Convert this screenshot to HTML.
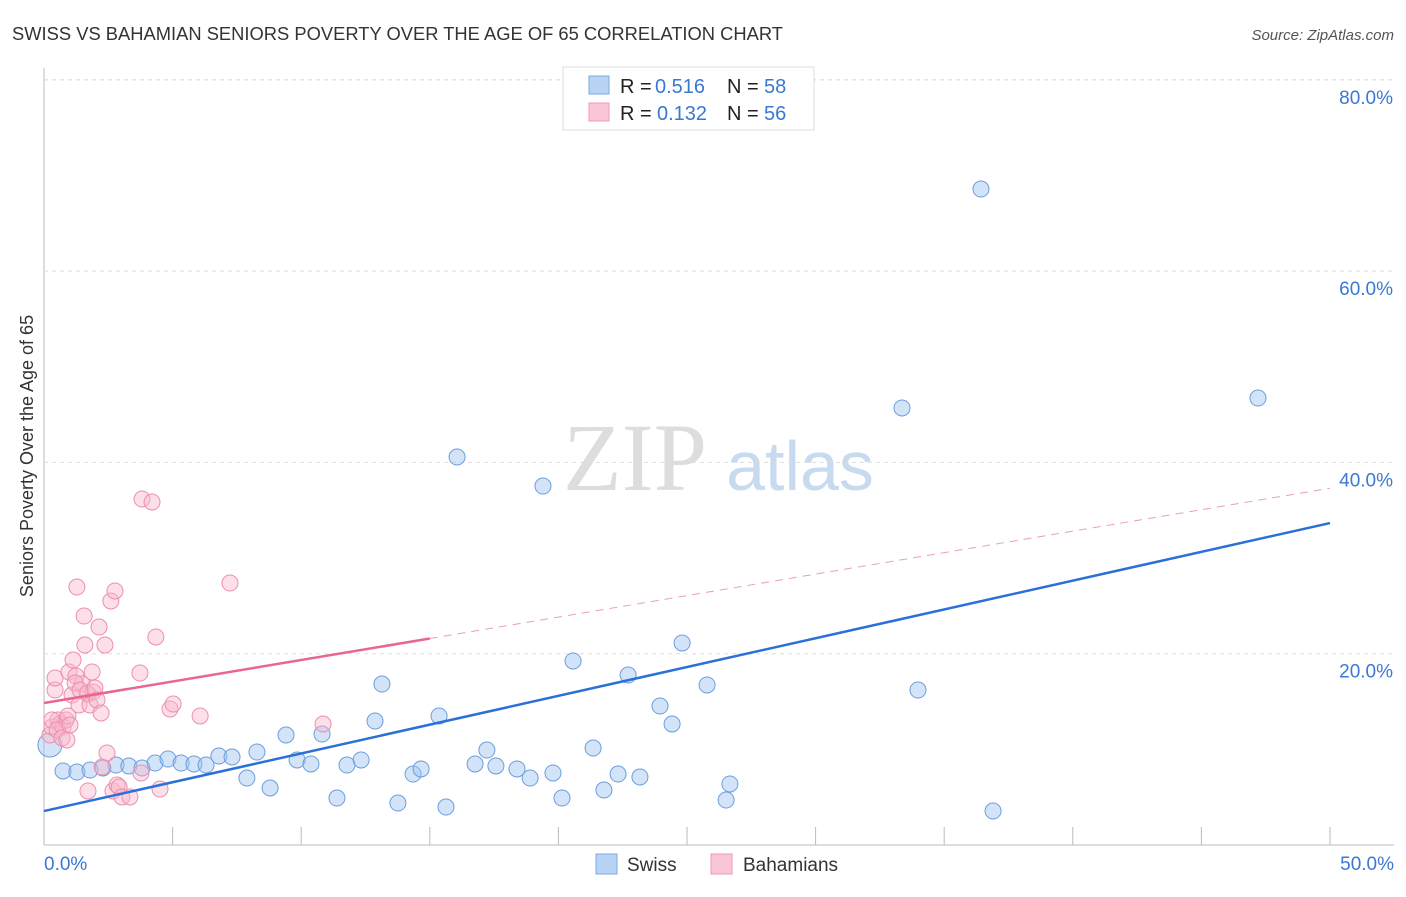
<!DOCTYPE html>
<html><head><meta charset="utf-8"><style>
body{margin:0;background:#fff;font-family:"Liberation Sans",sans-serif;}
</style></head><body>
<svg id="c" width="1406" height="892" xmlns="http://www.w3.org/2000/svg" style="font-family:'Liberation Sans',sans-serif">
<text x="12" y="40" font-size="18" fill="#333" textLength="771" lengthAdjust="spacingAndGlyphs">SWISS VS BAHAMIAN SENIORS POVERTY OVER THE AGE OF 65 CORRELATION CHART</text>
<text x="1394" y="40" font-size="15" fill="#555" font-style="italic" text-anchor="end">Source: ZipAtlas.com</text>
<text x="33" y="456" font-size="18" fill="#333" text-anchor="middle" transform="rotate(-90 33 456)">Seniors Poverty Over the Age of 65</text>
<text x="635" y="490" font-size="96" fill="#ddd" text-anchor="middle" font-family="Liberation Serif">ZIP</text>
<text x="800" y="490" font-size="70" fill="#c8daf0" text-anchor="middle">atlas</text>
<g id="grid"></g><g id="marks"></g>
<g font-size="20">
<rect x="563" y="67" width="251" height="63" fill="#fff" stroke="#ddd"/>
<rect x="589" y="76" width="20" height="18" fill="#b8d4f5" stroke="#7aaae0"/>
<rect x="589" y="103" width="20" height="18" fill="#f9c6d5" stroke="#ee99b3"/>
<text x="620" y="93" fill="#222">R =</text><text x="655" y="93" fill="#3a78d4">0.516</text>
<text x="727" y="93" fill="#222">N =</text><text x="764" y="93" fill="#3a78d4">58</text>
<text x="620" y="120" fill="#222">R =</text><text x="657" y="120" fill="#3a78d4">0.132</text>
<text x="727" y="120" fill="#222">N =</text><text x="764" y="120" fill="#3a78d4">56</text>
</g>
<g>
<rect x="596" y="854" width="21" height="20" fill="#b8d4f5" stroke="#7aaae0"/>
<text x="627" y="871" font-size="19" fill="#333">Swiss</text>
<rect x="711" y="854" width="21" height="20" fill="#f9c6d5" stroke="#ee99b3"/>
<text x="743" y="871" font-size="19" fill="#333">Bahamians</text>
</g>
</svg>
<script>
const swissX=[0.23,0.74,1.28,1.79,2.29,2.80,3.30,3.81,4.32,4.82,5.33,5.83,6.30,6.80,7.31,7.89,8.28,8.79,9.41,9.84,10.38,10.81,11.39,11.78,12.33,12.87,13.14,13.76,14.35,14.66,15.36,15.63,16.06,16.76,17.22,17.57,18.39,18.90,19.40,19.79,20.14,20.57,21.35,21.77,22.32,22.71,23.17,23.95,24.42,24.81,25.78,26.52,26.67,33.36,33.98,36.43,36.90,47.20];
const swissY=[10.45,7.74,7.63,7.84,8.05,8.36,8.26,8.05,8.57,8.99,8.57,8.47,8.36,9.30,9.20,7.00,9.72,5.96,11.50,8.89,8.47,11.60,4.91,8.36,8.89,12.96,16.83,4.39,7.42,7.95,13.49,3.97,40.56,8.47,9.93,8.26,7.95,7.00,37.53,7.53,4.91,19.24,10.14,5.75,7.42,17.77,7.11,14.53,12.65,21.12,16.73,4.70,6.38,45.69,16.20,68.58,3.55,46.73];
const bahX=[0.23,0.31,0.43,0.43,0.54,0.62,0.74,0.86,0.93,0.97,1.09,1.13,1.24,1.28,1.36,1.48,1.56,1.59,1.67,1.71,1.71,1.79,1.87,1.91,1.98,2.06,2.14,2.22,2.26,2.37,2.45,2.60,2.68,2.76,2.84,2.92,3.03,3.34,3.77,3.73,3.81,4.20,4.35,4.51,4.90,5.02,6.07,7.23,10.85,0.31,0.51,0.70,0.89,1.01,1.21,1.40];
const bahY=[11.50,12.34,16.20,17.46,13.07,12.65,12.34,13.07,13.49,18.09,15.68,19.34,17.67,26.97,14.64,16.83,23.94,20.91,15.89,15.79,5.65,14.64,18.09,16.00,16.41,15.16,22.79,13.80,8.15,20.91,9.62,25.51,5.65,26.56,6.27,6.06,5.02,5.02,7.53,17.98,36.17,35.86,21.75,5.85,14.22,14.74,13.49,27.39,12.65,13.07,12.02,11.19,10.98,12.55,16.94,16.20];
const swissTrend=[3.55,33.66];
const bahTrend=[14.85,37.3];
const xTicks=[0,5,10,15,20,25,30,35,40,45,50];
const yTicks=[20,40,60,80];
const NS="http://www.w3.org/2000/svg";
const sx=v=>44+v*25.72, sy=v=>845-v*9.565;
function mk(t,a,p){const e=document.createElementNS(NS,t);for(const k in a)e.setAttribute(k,a[k]);document.getElementById(p).appendChild(e);return e;}
mk('line',{x1:44,y1:845,x2:1394,y2:845,stroke:'#bbb'},'grid');
mk('line',{x1:44,y1:68,x2:44,y2:845,stroke:'#bbb'},'grid');
yTicks.forEach(t=>{const l=mk('line',{x1:44,y1:sy(t),x2:1394,y2:sy(t),stroke:'#ddd','stroke-dasharray':'4,4'},'grid');


const tx=mk('text',{x:1393,y:sy(t)+24,'font-size':19,fill:'#3a78d4','text-anchor':'end'},'grid');tx.textContent=t.toFixed(1)+'%';

});
mk('line',{x1:44,y1:80,x2:1394,y2:80,stroke:'#ddd','stroke-dasharray':'4,4'},'grid');
xTicks.forEach(t=>{const l=mk('line',{x1:sx(t),y1:827,x2:sx(t),y2:845,stroke:'#bbb'},'grid');

});
[[0,'start',44],[50,'end',1394]].forEach(([t,a,x])=>{const tx=mk('text',{x:x,y:870,'font-size':19,fill:'#3a78d4','text-anchor':a},'grid');tx.textContent=t.toFixed(1)+'%';

});
swissX.forEach((x,i)=>{const c=mk('circle',{cx:sx(x),cy:sy(swissY[i]),r:i==0?12:8,fill:'rgba(160,195,240,0.45)',stroke:'#6a9edf','stroke-width':1},'marks');

});
bahX.forEach((x,i)=>{const c=mk('circle',{cx:sx(x),cy:sy(bahY[i]),r:8,fill:'rgba(248,185,205,0.45)',stroke:'#ec8fae','stroke-width':1},'marks');

});
let l=mk('line',{x1:sx(0),y1:sy(swissTrend[0]),x2:sx(50),y2:sy(swissTrend[1]),stroke:'#2a70d8','stroke-width':2.5},'marks');


const by=x=>bahTrend[0]+(bahTrend[1]-bahTrend[0])*x/50;
l=mk('line',{x1:sx(0),y1:sy(by(0)),x2:sx(15),y2:sy(by(15)),stroke:'#e8668f','stroke-width':2.5},'marks');


l=mk('line',{x1:sx(15),y1:sy(by(15)),x2:sx(50),y2:sy(by(50)),stroke:'#e8a0b8','stroke-width':1,'stroke-dasharray':'8,6'},'marks');


</script>
</body></html>
